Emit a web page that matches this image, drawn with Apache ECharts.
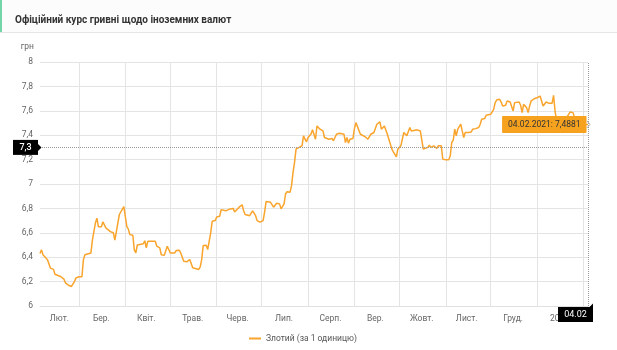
<!DOCTYPE html>
<html><head><meta charset="utf-8">
<script src="https://cdn.jsdelivr.net/npm/echarts@6/dist/echarts.min.js"></script>
<style>html,body{margin:0;padding:0;background:#fff}#c{width:617px;height:350px}</style>
</head><body><div id="c"></div>
<script>
const chartTitle = 'Офіційний курс гривні щодо іноземних валют';
const seriesName = 'Злотий (за 1 одиницю)';
const unitLabel = 'грн';
const crossValue = 7.3;

const dates = [
'2020-02-04','2020-02-05','2020-02-06','2020-02-07','2020-02-09','2020-02-10','2020-02-11','2020-02-13','2020-02-14','2020-02-15',
'2020-02-16','2020-02-17','2020-02-18','2020-02-20','2020-02-21','2020-02-22','2020-02-23','2020-02-25','2020-02-26','2020-02-27',
'2020-02-28','2020-03-01','2020-03-03','2020-03-04','2020-03-05','2020-03-06','2020-03-09','2020-03-10','2020-03-12','2020-03-13',
'2020-03-14','2020-03-16','2020-03-17','2020-03-19','2020-03-22','2020-03-24','2020-03-25','2020-03-26','2020-03-28','2020-03-29',
'2020-03-31','2020-04-01','2020-04-02','2020-04-03','2020-04-04','2020-04-06','2020-04-07','2020-04-08','2020-04-09','2020-04-10',
'2020-04-13','2020-04-14','2020-04-15','2020-04-16','2020-04-21','2020-04-22','2020-04-24','2020-04-25','2020-04-27','2020-04-29',
'2020-04-30','2020-05-01','2020-05-04','2020-05-05','2020-05-07','2020-05-08','2020-05-10','2020-05-12','2020-05-14','2020-05-15',
'2020-05-16','2020-05-20','2020-05-21','2020-05-22','2020-05-23','2020-05-24','2020-05-25','2020-05-26','2020-05-28','2020-05-29',
'2020-05-31','2020-06-01','2020-06-03','2020-06-04','2020-06-05','2020-06-07','2020-06-10','2020-06-11','2020-06-12','2020-06-13',
'2020-06-14','2020-06-16','2020-06-18','2020-06-19','2020-06-20','2020-06-23','2020-06-24','2020-06-25','2020-06-27','2020-06-28',
'2020-06-30','2020-07-02','2020-07-03','2020-07-04','2020-07-07','2020-07-08','2020-07-09','2020-07-10','2020-07-11','2020-07-13',
'2020-07-14','2020-07-16','2020-07-17','2020-07-18','2020-07-20','2020-07-21','2020-07-22','2020-07-23','2020-07-24','2020-07-26',
'2020-07-28','2020-07-29','2020-07-30','2020-07-31','2020-08-01','2020-08-02','2020-08-03','2020-08-04','2020-08-06','2020-08-07',
'2020-08-08','2020-08-09','2020-08-11','2020-08-12','2020-08-13','2020-08-15','2020-08-17','2020-08-18','2020-08-19','2020-08-20',
'2020-08-22','2020-08-25','2020-08-26','2020-08-27','2020-08-28','2020-08-29','2020-08-31','2020-09-01','2020-09-02','2020-09-03',
'2020-09-05','2020-09-06','2020-09-08','2020-09-10','2020-09-11','2020-09-12','2020-09-14','2020-09-16','2020-09-18','2020-09-19',
'2020-09-20','2020-09-21','2020-09-23','2020-09-24','2020-09-25','2020-09-26','2020-09-27','2020-09-28','2020-09-29','2020-09-30',
'2020-10-01','2020-10-02','2020-10-03','2020-10-04','2020-10-05','2020-10-06','2020-10-07','2020-10-08','2020-10-09','2020-10-10',
'2020-10-13','2020-10-14','2020-10-15','2020-10-16','2020-10-17','2020-10-18','2020-10-20','2020-10-21','2020-10-22','2020-10-24',
'2020-10-25','2020-10-26','2020-10-27','2020-10-28','2020-10-29','2020-10-30','2020-11-01','2020-11-03','2020-11-04','2020-11-05',
'2020-11-06','2020-11-07','2020-11-08','2020-11-09','2020-11-11','2020-11-12','2020-11-13','2020-11-14','2020-11-15','2020-11-16',
'2020-11-17','2020-11-18','2020-11-19','2020-11-21','2020-11-22','2020-11-23','2020-11-24','2020-11-25','2020-11-26','2020-11-27',
'2020-11-28','2020-12-01','2020-12-02','2020-12-03','2020-12-04','2020-12-05','2020-12-07','2020-12-08','2020-12-09','2020-12-11',
'2020-12-12','2020-12-13','2020-12-14','2020-12-16','2020-12-17','2020-12-18','2020-12-20','2020-12-21','2020-12-22','2020-12-23',
'2020-12-24','2020-12-25','2020-12-26','2020-12-27','2020-12-28','2020-12-30','2021-01-01','2021-01-02','2021-01-03','2021-01-04',
'2021-01-05','2021-01-06','2021-01-07','2021-01-09','2021-01-11','2021-01-12','2021-01-13','2021-01-14','2021-01-16','2021-01-19',
'2021-01-21','2021-01-23','2021-01-24','2021-01-25','2021-01-26','2021-01-29','2021-02-01','2021-02-04'
];
const values = [
6.43,6.46,6.42,6.43,6.38,6.37,6.31,6.30,6.26,6.27,
6.25,6.25,6.24,6.22,6.19,6.18,6.17,6.16,6.17,6.20,
6.23,6.24,6.24,6.38,6.42,6.435,6.435,6.54,6.68,6.72,
6.65,6.65,6.69,6.64,6.61,6.60,6.54,6.53,6.75,6.755,
6.815,6.80,6.65,6.63,6.585,6.58,6.46,6.435,6.50,6.515,
6.51,6.535,6.476,6.53,6.53,6.49,6.476,6.42,6.415,6.49,
6.463,6.435,6.435,6.455,6.457,6.435,6.367,6.362,6.381,6.381,
6.313,6.30,6.32,6.38,6.495,6.503,6.498,6.463,6.60,6.694,
6.70,6.73,6.735,6.79,6.78,6.78,6.796,6.782,6.80,6.77,
6.755,6.81,6.83,6.78,6.75,6.74,6.736,6.78,6.74,6.70,
6.687,6.70,6.77,6.856,6.85,6.864,6.81,6.81,6.842,6.837,
6.796,6.837,6.918,6.937,6.932,6.986,7.095,7.177,7.286,7.30,
7.313,7.395,7.367,7.346,7.381,7.395,7.41,7.444,7.367,7.476,
7.49,7.449,7.435,7.381,7.395,7.367,7.373,7.354,7.346,7.408,
7.416,7.408,7.34,7.381,7.335,7.367,7.373,7.454,7.503,7.517,
7.408,7.395,7.389,7.367,7.381,7.408,7.422,7.49,7.509,7.449,
7.435,7.476,7.408,7.367,7.327,7.286,7.264,7.272,7.223,7.286,
7.30,7.313,7.313,7.422,7.435,7.395,7.408,7.463,7.435,7.427,
7.444,7.449,7.435,7.449,7.286,7.286,7.30,7.318,7.30,7.313,
7.327,7.291,7.313,7.327,7.313,7.204,7.199,7.199,7.231,7.34,
7.359,7.449,7.395,7.449,7.49,7.435,7.381,7.422,7.408,7.422,
7.416,7.427,7.449,7.454,7.449,7.463,7.49,7.531,7.539,7.536,
7.563,7.571,7.574,7.612,7.667,7.688,7.694,7.672,7.639,7.645,
7.68,7.686,7.672,7.599,7.667,7.68,7.672,7.645,7.585,7.653,
7.667,7.626,7.585,7.639,7.68,7.699,7.707,7.716,7.721,7.707,
7.639,7.645,7.672,7.661,7.661,7.727,7.599,7.52,7.49,7.50,
7.55,7.59,7.593,7.585,7.544,7.50,7.49,7.4881
];

// month boundaries (grid lines) and month label positions / texts
const monthStarts = ['2020-03-01','2020-04-01','2020-05-01','2020-06-01','2020-07-01','2020-08-01','2020-09-01','2020-10-01','2020-11-01','2020-12-01','2021-01-01','2021-02-01'];
const tickPositions = ['2020-02-17','2020-03-16','2020-04-15','2020-05-16','2020-06-15','2020-07-16','2020-08-16','2020-09-15','2020-10-16','2020-11-15','2020-12-16','2021-01-16'];
const tickLabels = ['Лют.','Бер.','Квіт.','Трав.','Черв.','Лип.','Серп.','Вер.','Жовт.','Лист.','Груд.','2021'];

const lineColor = '#f9a42c';
const gridColor = '#e4e4e4';

const ts = s => new Date(s + 'T00:00:00').getTime();
const lineData = dates.map((d, i) => [ts(d), values[i]]);
const firstTs = ts(dates[0]);
const lastTs = ts(dates[dates.length - 1]);
const lastVal = values[values.length - 1];
const fmtNum = v => String(v).replace('.', ',');
const p2 = n => String(n).padStart(2, '0');
const ld = new Date(lastTs);
const tipText = p2(ld.getDate()) + '.' + p2(ld.getMonth() + 1) + '.' + ld.getFullYear() + ': ' + fmtNum(lastVal);
const crossDateText = p2(ld.getDate()) + '.' + p2(ld.getMonth() + 1);
const labelTs = tickPositions.map(ts);

const chart = echarts.init(document.getElementById('c'));
chart.setOption({
  animation: false,
  backgroundColor: '#fff',
  textStyle: { fontFamily: 'Roboto' },
  title: { text: chartTitle, left: 10, top: 10, textStyle: { fontSize: 10, fontWeight: 'bold', color: '#333', fontFamily: 'Roboto' } },
  legend: { data: [seriesName], left: 244, top: 329, icon: 'rect', itemWidth: 12, itemHeight: 2, itemGap: 10,
    textStyle: { fontSize: 8.5, color: '#555' } },
  grid: { left: 40, right: 29, top: 62, bottom: 44 },
  xAxis: {
    type: 'value', min: firstTs, max: lastTs, scale: true,
    axisLine: { lineStyle: { color: '#e0e0e0' } },
    axisTick: { show: false },
    splitLine: { show: false },
    axisLabel: {
      customValues: labelTs, color: '#666', fontSize: 8.5, margin: 8, hideOverlap: false,
      formatter: v => {
        let best = 0;
        labelTs.forEach((t, i) => { if (Math.abs(t - v) < Math.abs(labelTs[best] - v)) best = i; });
        return tickLabels[best];
      }
    }
  },
  yAxis: {
    type: 'value', min: 6, max: 8, interval: 0.2,
    name: unitLabel, nameLocation: 'end', nameGap: 11,
    nameTextStyle: { color: '#666', fontSize: 8.5, align: 'right', padding: [0, 6, 0, 0] },
    axisLine: { show: false }, axisTick: { show: false },
    axisLabel: { color: '#666', fontSize: 8.5, margin: 7, formatter: v => fmtNum(Math.round(v * 10) / 10) },
    splitLine: { lineStyle: { color: gridColor } }
  },
  series: [{
    type: 'line', name: 'monthGrid', data: [], silent: true, z: 1,
    markLine: {
      silent: true, symbol: 'none', animation: false, z: 1,
      label: { show: false },
      lineStyle: { type: 'solid', color: gridColor, width: 1 },
      emphasis: { disabled: true },
      data: monthStarts.map(d => ({ xAxis: ts(d) }))
    }
  }, {
    type: 'line', name: seriesName, data: lineData, showSymbol: false, symbol: 'none', z: 3,
    lineStyle: { color: lineColor, width: 1.5 }, itemStyle: { color: lineColor },
    markLine: {
      silent: true, symbol: 'none', animation: false, z: 4,
      label: { show: false },
      lineStyle: { type: 'dotted', color: '#9a9a9a', width: 1 },
      data: [{ yAxis: crossValue }, { xAxis: lastTs }]
    },
    markPoint: {
      silent: true, symbol: 'rect', symbolSize: 1, animation: false, z: 6,
      itemStyle: { color: 'rgba(0,0,0,0)' },
      data: [{ coord: [lastTs, lastVal] }],
      label: { show: true, position: 'left', distance: 1, formatter: tipText,
        backgroundColor: '#f6a21e', color: '#333', fontSize: 8.5, padding: [4, 6, 4, 6], borderRadius: 1 }
    }
  }]
});

const [gx0, gyCross] = chart.convertToPixel({ gridIndex: 0 }, [firstTs, crossValue]);
const [gxLast, gyBottom] = chart.convertToPixel({ gridIndex: 0 }, [lastTs, 6]);
const [, gyLast] = chart.convertToPixel({ gridIndex: 0 }, [lastTs, lastVal]);
chart.setOption({
  graphic: [
    { type: 'rect', z: -10, shape: { x: 0, y: 0, width: 617, height: 32 }, style: { fill: '#fcfcfc' } },
    { type: 'rect', z: -9, shape: { x: 0, y: 32, width: 617, height: 1 }, style: { fill: '#e6e6e6' } },
    { type: 'rect', z: -9, shape: { x: 0, y: 0, width: 2, height: 32 }, style: { fill: '#74d6a8' } },
    { type: 'polyline', z: 100, shape: { points: [[gxLast - 1, gyLast - 3.5], [gxLast + 2, gyLast], [gxLast - 1, gyLast + 3.5]] }, style: { stroke: '#b0b0b0', lineWidth: 1, fill: null } },
    { type: 'rect', z: 100, shape: { x: gx0 - 27, y: gyCross - 7.5, width: 25, height: 15 }, style: { fill: '#000' } },
    { type: 'polygon', z: 100, shape: { points: [[gx0 - 2, gyCross - 3.5], [gx0 + 1.5, gyCross], [gx0 - 2, gyCross + 3.5]] }, style: { fill: '#000' } },
    { type: 'text', z: 101, x: gx0 - 14.5, y: gyCross, style: { text: fmtNum(crossValue), fill: '#fff', font: '500 9px Roboto', align: 'center', verticalAlign: 'middle' } },
    { type: 'rect', z: 100, shape: { x: gxLast - 30, y: gyBottom + 1, width: 35, height: 15 }, style: { fill: '#000' } },
    { type: 'polygon', z: 100, shape: { points: [[gxLast + 1, gyBottom + 1.5], [gxLast + 5, gyBottom + 1.5], [gxLast + 5, gyBottom - 2.5]] }, style: { fill: '#000' } },
    { type: 'text', z: 101, x: gxLast - 12.5, y: gyBottom + 8.5, style: { text: crossDateText, fill: '#fff', font: '9px Roboto', align: 'center', verticalAlign: 'middle' } }
  ]
});
</script>
</body></html>
